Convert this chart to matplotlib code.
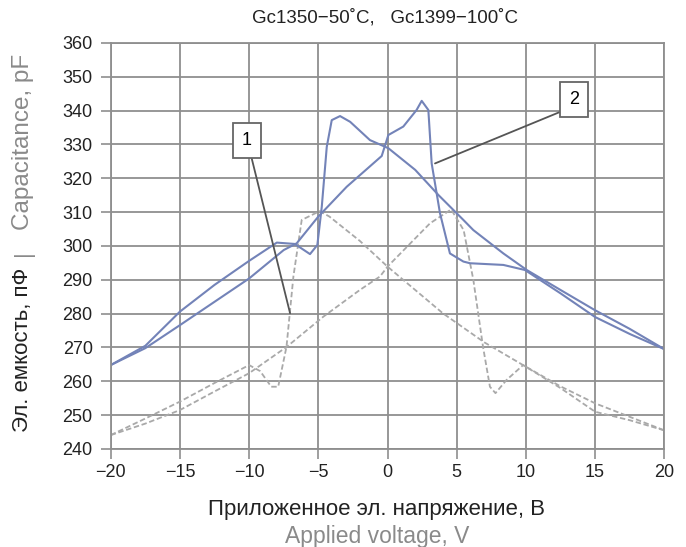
import matplotlib.pyplot as plt

plt.rcParams['font.family'] = ['Liberation Sans', 'DejaVu Sans']

# Gc1399 (100 C) - forward and reverse sweep
v2_fwd = [-20, -17.5, -15, -12.5, -10, -8, -6.7, -5.6, -5.07, -4.75, -4.39, -4.03, -3.43, -2.7,
          -1.27, 0.06, 2, 3.67, 5.48, 6.2, 8.37, 10.06, 12.5, 15, 17.5, 20]
c2_fwd = [264.8, 270.5, 280.6, 288.5, 295.6, 301, 300.6, 297.6, 300.3, 311.6, 329.3, 337.2, 338.4, 336.7,
          331.3, 328.9, 322.5, 315.1, 307.7, 304.7, 297.8, 292.9, 287, 281, 275.5, 269.5]
v2_rev = [-20, -17.5, -15, -12.5, -10, -7.5, -6.56, -5.0, -2.95, -0.42, 0.06, 1.14, 2.1, 2.47,
          2.95, 3.19, 3.79, 4.51, 5.48, 5.96, 8.37, 9.93, 12.5, 15, 17.5, 20]
c2_rev = [264.8, 269.8, 276.6, 283.5, 290.4, 298.8, 300.8, 308.7, 317.5, 326.6, 332.8, 335.3, 340.2, 342.9,
          340.2, 324.4, 309.7, 297.8, 295.4, 294.9, 294.4, 292.9, 286, 279, 274, 269.5]

# Gc1350 (50 C) - forward and reverse sweep
v1_fwd = [-20, -17.5, -15, -12.5, -10, -9.2, -8.4, -7.9, -7.3, -6.8, -6.2, -4.9, -4.2, -2,
          0, 2, 4, 7, 10, 12.5, 15, 17.5, 20]
c1_fwd = [244.1, 249, 254, 259.5, 264.8, 263, 258.4, 258.4, 270.2, 291, 307.7, 310.3, 308.7, 301.5,
          293.9, 287, 280.1, 271.5, 264.3, 258.5, 253.5, 249.5, 245.5]
v1_rev = [-20, -17.5, -15, -12.5, -10, -7.28, -4.64, -2, -0.54, 0, 3.07, 4.6, 5.5, 6.2, 6.9,
          7.4, 7.8, 8.6, 9.8, 12.5, 15, 17.5, 20]
c1_rev = [244.1, 247.5, 251.5, 257, 262.4, 270.2, 279.1, 287, 291, 293.9, 306.7, 310.8, 304.7, 290, 270.2,
          258.4, 256.5, 260.4, 264.8, 258, 251, 248.5, 245.5]

x_ticks = list(range(-20, 21, 5))
y_ticks = list(range(240, 361, 10))

fig = plt.figure(figsize=(6.86, 5.47), dpi=100)
ax = fig.add_axes([0.1614, 0.1792, 0.807, 0.7422])

gray_c = '#a9a9a9'
blue_c = '#7383b8'
ax.plot(v1_fwd, c1_fwd, color=gray_c, lw=1.3, ls=(0, (3, 1.5)))
ax.plot(v1_rev, c1_rev, color=gray_c, lw=1.3, ls=(0, (3, 1.5)))
ax.plot(v2_fwd, c2_fwd, color=blue_c, lw=1.5)
ax.plot(v2_rev, c2_rev, color=blue_c, lw=1.5)

ax.set_xlim(-20, 20)
ax.set_ylim(240, 360)
ax.set_xticks(x_ticks)
ax.set_yticks(y_ticks)
ax.set_xticklabels([str(t).replace('-', '\u2212') for t in x_ticks])
ax.grid(True, color='#8f8f8f', lw=1.3)
ax.set_axisbelow(True)
for s in ax.spines.values():
    s.set_color('#8f8f8f')
    s.set_linewidth(1.3)
ax.tick_params(colors='#8f8f8f', labelcolor='#222222', labelsize=13, length=7, width=1.2)
ax.tick_params(axis='y', pad=6)
ax.tick_params(axis='x', pad=4)

# callouts
ax.annotate('1', xy=(-7.04, 280.1), xytext=(-10.17, 331.3), fontsize=13, ha='center', va='center',
            bbox=dict(boxstyle='square,pad=0.5', fc='white', ec='#666666', lw=1.3),
            arrowprops=dict(arrowstyle='-', color='#555555', lw=1.3, shrinkA=0, shrinkB=0,
                            relpos=(0.75, 0)))
ax.annotate('2', xy=(3.43, 324.4), xytext=(13.46, 343.2), fontsize=13, ha='center', va='center',
            bbox=dict(boxstyle='square,pad=0.5', fc='white', ec='#666666', lw=1.3),
            arrowprops=dict(arrowstyle='-', color='#555555', lw=1.3, shrinkA=0, shrinkB=0,
                            relpos=(0, 0)))

fig.text(385 / 686, 1 - 18 / 547, 'Gc1350\u221250\u02daC,   Gc1399\u2212100\u02daC', ha='center',
         va='center', fontsize=13.5, color='#222222')

fig.text(377 / 686, 1 - 509 / 547, 'Приложенное эл. напряжение, В', ha='center', va='center',
         fontsize=16, color='#222222')
fig.text(377 / 686, 1 - 536 / 547, 'Applied voltage, V', ha='center', va='center',
         fontsize=16.5, color='#8a8a8a')

fig.text(23 / 686, 1 - 432 / 547, 'Эл. емкость, пФ', rotation=90, ha='center', va='bottom',
         fontsize=16, color='#222222')
fig.text(23 / 686, 1 - 253 / 547, '|', rotation=90, ha='center', va='center',
         fontsize=16, color='#8a8a8a')
fig.text(23 / 686, 1 - 54 / 547, 'Capacitance, pF', rotation=90, ha='center', va='top',
         fontsize=17.5, color='#8a8a8a')

fig.savefig('out.png', dpi=100)
